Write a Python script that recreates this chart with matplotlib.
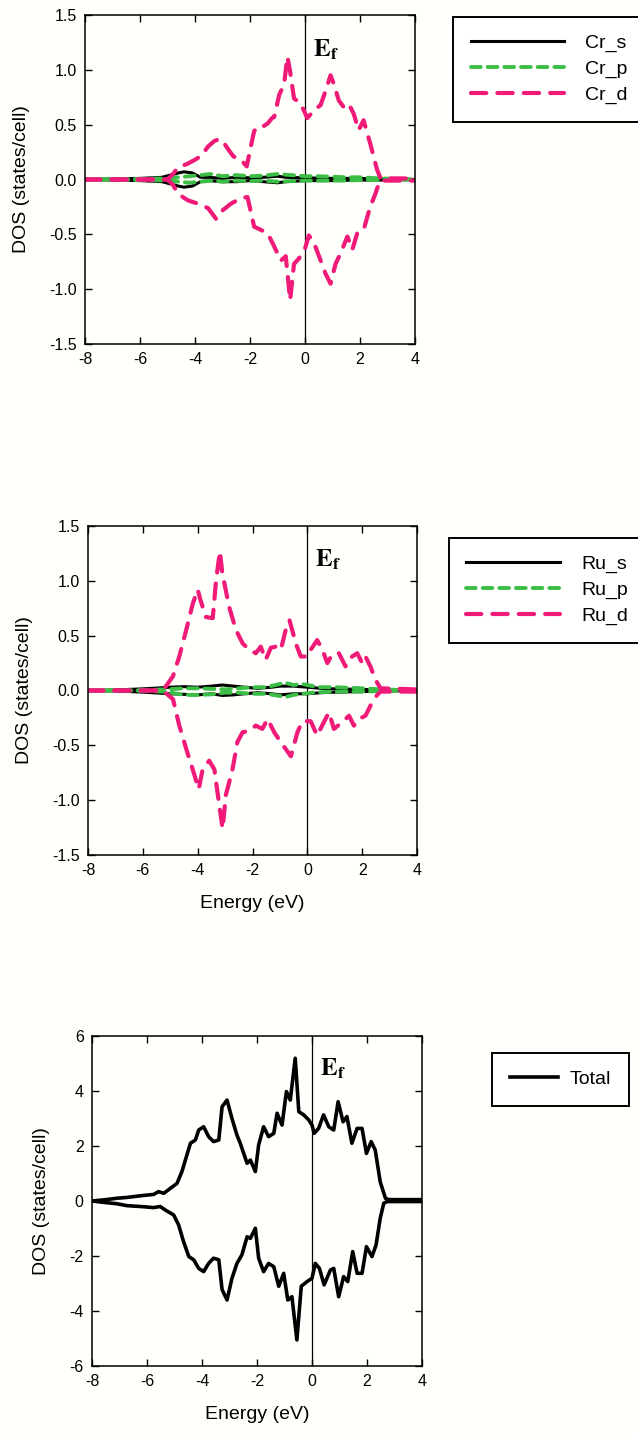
import matplotlib
matplotlib.use("Agg")
import matplotlib.pyplot as plt

plt.rcParams['font.family'] = ['Liberation Sans', 'DejaVu Sans']
plt.rcParams['mathtext.fontset'] = 'stix'
plt.rcParams['lines.scale_dashes'] = False
plt.rcParams['axes.unicode_minus'] = False

PINK = '#f01a78'
GREEN = '#3cbe46'

# ---- Cr (panel 1) ----
cr_d_up_e = [-8, -5.0, -4.8, -4.62, -4.3, -4.0, -3.75, -3.53, -3.3, -3.12, -2.94, -2.75, -2.6,
             -2.33, -2.12, -1.97, -1.85, -1.72, -1.55, -1.36, -1.2, -1.12, -0.94, -0.76, -0.64,
             -0.55, -0.4, -0.2, -0.04, 0.08, 0.33, 0.57, 0.75, 0.93, 1.05, 1.23, 1.41, 1.59,
             1.77, 1.95, 2.13, 2.37, 2.62, 2.75, 4]
cr_d_up = [0, 0, 0.05, 0.11, 0.14, 0.18, 0.22, 0.30, 0.35, 0.37, 0.33, 0.26, 0.21,
           0.18, 0.12, 0.30, 0.44, 0.48, 0.48, 0.51, 0.56, 0.57, 0.77, 0.87, 1.12,
           1.0, 0.74, 0.70, 0.63, 0.56, 0.63, 0.68, 0.81, 0.95, 0.87, 0.72, 0.66, 0.69,
           0.60, 0.45, 0.54, 0.33, 0.09, 0.01, 0.01]
cr_d_dn_e = [-8, -5.0, -4.8, -4.62, -4.26, -3.9, -3.53, -3.23, -2.99, -2.69, -2.33, -2.09,
             -1.85, -1.6, -1.36, -1.12, -0.88, -0.7, -0.54, -0.4, -0.22, 0.0, 0.14, 0.33,
             0.57, 0.75, 0.93, 1.11, 1.3, 1.54, 1.72, 1.9, 2.13, 2.37, 2.56, 2.68, 2.75, 4]
cr_d_dn = [0, 0, -0.05, -0.13, -0.19, -0.22, -0.26, -0.36, -0.28, -0.22, -0.17, -0.16,
           -0.43, -0.46, -0.49, -0.61, -0.74, -0.70, -1.10, -0.77, -0.72, -0.63, -0.51, -0.58,
           -0.74, -0.86, -0.95, -0.77, -0.67, -0.52, -0.64, -0.49, -0.46, -0.25, -0.13, -0.04, -0.01, -0.01]
cr_s_e = [-8, -7, -6, -5.2, -4.9, -4.6, -4.4, -4.1, -3.8, -3.5, -3.0, -2.5, -2.0, -1.5, -1.0,
          -0.7, 0.0, 1.0, 2.0, 2.7, 4]
cr_s_up = [0, 0.005, 0.01, 0.02, 0.04, 0.06, 0.07, 0.06, 0.02, 0.02, 0.01, 0.02, 0.015, 0.02,
           0.03, 0.02, 0.015, 0.01, 0.01, 0.005, 0]
cr_s_dn = [0, -0.005, -0.01, -0.02, -0.04, -0.06, -0.07, -0.06, -0.02, -0.01, -0.02, -0.02,
           -0.01, -0.02, -0.03, -0.02, -0.01, -0.01, -0.005, -0.005, 0]
cr_p_e = [-8, -6, -5, -4.6, -4.2, -3.8, -3.4, -3.0, -2.5, -2.0, -1.5, -1.0, -0.5, 0.0, 0.5,
          1.0, 1.5, 2.0, 2.7, 4]
cr_p_up = [0, 0.005, 0.01, 0.02, 0.03, 0.04, 0.05, 0.03, 0.04, 0.03, 0.035, 0.05, 0.04, 0.03,
           0.03, 0.025, 0.02, 0.02, 0.01, 0]
cr_p_dn = [0, -0.005, -0.01, -0.02, -0.03, -0.02, -0.01, -0.02, -0.01, -0.015, -0.01, -0.02,
           -0.015, -0.01, -0.01, -0.01, -0.01, -0.005, -0.005, 0]

# ---- Ru (panel 2) ----
ru_d_up_e = [-8, -5.27, -4.9, -4.67, -4.42, -4.18, -4.0, -3.88, -3.7, -3.45, -3.33, -3.19,
             -3.1, -2.85, -2.6, -2.36, -2.12, -1.88, -1.7, -1.52, -1.33, -1.15, -0.97, -0.79,
             -0.65, -0.42, -0.24, 0.0, 0.12, 0.36, 0.55, 0.73, 0.91, 1.15, 1.39, 1.58, 1.82,
             2.0, 2.12, 2.3, 2.48, 2.67, 4]
ru_d_up = [0, 0, 0.13, 0.31, 0.55, 0.79, 0.92, 0.81, 0.67, 0.66, 1.0, 1.27,
           1.07, 0.76, 0.55, 0.43, 0.37, 0.34, 0.40, 0.28, 0.39, 0.40, 0.37, 0.55,
           0.64, 0.43, 0.31, 0.31, 0.37, 0.46, 0.37, 0.25, 0.33, 0.34, 0.22, 0.30, 0.34,
           0.25, 0.31, 0.22, 0.10, 0.02, 0.01]
ru_d_dn_e = [-8, -5.27, -4.9, -4.67, -4.42, -4.18, -3.96, -3.82, -3.58, -3.39, -3.21, -3.09,
             -2.97, -2.73, -2.55, -2.36, -2.12, -1.88, -1.64, -1.45, -1.21, -0.97, -0.6,
             -0.36, -0.18, 0.12, 0.36, 0.6, 0.79, 0.97, 1.27, 1.52, 1.7, 1.88, 2.12, 2.36,
             2.55, 2.67, 4]
ru_d_dn = [0, 0, -0.08, -0.32, -0.53, -0.72, -0.90, -0.72, -0.64, -0.72, -1.05, -1.26,
           -0.95, -0.72, -0.47, -0.38, -0.37, -0.32, -0.35, -0.26, -0.38, -0.47, -0.60,
           -0.38, -0.28, -0.28, -0.41, -0.29, -0.20, -0.35, -0.29, -0.23, -0.32, -0.26, -0.23, -0.11,
           -0.04, -0.01, -0.01]
ru_s_e = [-8, -7, -6, -5.3, -5.0, -4.5, -4.0, -3.5, -3.1, -2.7, -2.3, -1.8, -1.3, -1.0, -0.5,
          0.0, 0.5, 1.0, 2.0, 2.7, 4]
ru_s_up = [0, 0.005, 0.015, 0.025, 0.03, 0.035, 0.03, 0.04, 0.05, 0.04, 0.03, 0.02, 0.03, 0.04,
           0.04, 0.03, 0.02, 0.015, 0.01, 0.005, 0]
ru_s_dn = [0, -0.005, -0.015, -0.025, -0.03, -0.035, -0.04, -0.03, -0.045, -0.04, -0.03, -0.02,
           -0.03, -0.04, -0.03, -0.03, -0.02, -0.015, -0.01, -0.005, 0]
ru_p_e = [-8, -6, -5.2, -4.5, -4.0, -3.5, -3.0, -2.5, -2.0, -1.5, -1.0, -0.8, -0.5, -0.2, 0.2,
          0.5, 1.0, 1.5, 2.0, 2.7, 4]
ru_p_up = [0, 0.003, 0.01, 0.02, 0.02, 0.015, 0.01, 0.02, 0.03, 0.03, 0.06, 0.07, 0.05, 0.06,
           0.04, 0.03, 0.03, 0.025, 0.02, 0.01, 0]
ru_p_dn = [0, -0.003, -0.01, -0.04, -0.04, -0.035, -0.02, -0.02, -0.03, -0.03, -0.05, -0.06,
           -0.04, -0.03, -0.02, -0.015, -0.01, -0.01, -0.01, -0.005, 0]

# ---- Total (panel 3) ----
tot_up_e = [-8, -7.58, -7.09, -6.73, -6.24, -5.76, -5.58, -5.39, -5.15, -4.91, -4.73, -4.55,
            -4.42, -4.24, -4.12, -3.94, -3.76, -3.58, -3.39, -3.27, -3.09, -2.91, -2.73, -2.61,
            -2.36, -2.24, -2.06, -1.94, -1.76, -1.58, -1.39, -1.27, -1.09, -0.93, -0.79, -0.61,
            -0.48, -0.3, -0.12, 0.0, 0.08, 0.24, 0.42, 0.61, 0.79, 0.95, 1.13, 1.27, 1.45,
            1.64, 1.82, 1.98, 2.15, 2.3, 2.48, 2.67, 2.79, 4]
tot_up = [0, 0.04, 0.10, 0.13, 0.19, 0.24, 0.34, 0.28, 0.46, 0.64, 1.07, 1.67,
          2.10, 2.22, 2.58, 2.70, 2.34, 2.16, 2.22, 3.43, 3.67, 3.0, 2.4, 2.1,
          1.37, 1.49, 1.07, 2.04, 2.70, 2.34, 2.46, 3.19, 2.76, 3.98, 3.67, 5.19,
          3.25, 3.13, 2.95, 2.76, 2.46, 2.64, 3.13, 2.70, 2.58, 3.61, 2.88, 3.07, 2.10,
          2.64, 2.64, 1.73, 2.16, 1.85, 0.70, 0.10, 0.05, 0.05]
tot_dn_e = [-8, -7.58, -7.09, -6.73, -6.24, -5.76, -5.52, -5.33, -5.03, -4.85, -4.67, -4.48,
            -4.3, -4.12, -3.94, -3.76, -3.58, -3.39, -3.27, -3.09, -2.91, -2.73, -2.55, -2.36,
            -2.24, -2.06, -1.94, -1.76, -1.58, -1.39, -1.21, -1.03, -0.88, -0.73, -0.55, -0.39,
            -0.18, 0.0, 0.12, 0.27, 0.44, 0.67, 0.79, 0.97, 1.15, 1.3, 1.48, 1.64, 1.82, 1.98,
            2.18, 2.33, 2.48, 2.61, 2.73, 4]
tot_dn = [0, -0.05, -0.10, -0.17, -0.20, -0.24, -0.20, -0.33, -0.51, -0.87, -1.48, -2.02,
          -2.14, -2.45, -2.57, -2.27, -2.08, -2.14, -3.22, -3.60, -2.81, -2.27, -1.96, -1.30,
          -1.36, -0.99, -2.08, -2.57, -2.27, -2.39, -3.10, -2.63, -3.60, -3.48, -5.05, -3.10,
          -2.93, -2.81, -2.27, -2.45, -3.05, -2.51, -2.45, -3.48, -2.75, -2.93, -1.84, -2.63,
          -2.63, -1.66, -2.02, -1.60, -0.63, -0.08, -0.02, -0.02]

W, H = 638, 1437
fig = plt.figure(figsize=(W / 100, H / 100), dpi=100, facecolor='#fffffb')


def make_axes(l, r, t, b):
    return fig.add_axes([l / W, 1 - b / H, (r - l) / W, (b - t) / H])


def style_axes(ax, ylim, yticks, fmt, ef_y, xlabel=True):
    ax.set_facecolor('#fffffb')
    ax.set_xlim(-8, 4)
    ax.set_ylim(*ylim)
    ax.set_xticks([-8, -6, -4, -2, 0, 2, 4])
    ax.set_yticks(yticks)
    ax.set_yticklabels([fmt % v for v in yticks])
    ax.tick_params(direction='in', length=5, width=1, top=True, right=True,
                   labelsize=11.5, pad=6)
    for sp in ax.spines.values():
        sp.set_linewidth(1.1)
    ax.axvline(0, color='black', lw=0.9, zorder=1)
    ax.set_ylabel('DOS (states/cell)', fontsize=14, labelpad=14)
    if xlabel:
        ax.set_xlabel('Energy (eV)', fontsize=14, labelpad=12)
    ax.text(0.28, ef_y, r'$\mathbf{E_f}$', fontsize=18, va='center', ha='left')


def add_legend(ax, x0, y0, handlelength, textpad):
    ax.legend(loc='upper left', bbox_to_anchor=(x0 / W, 1 - y0 / H),
              bbox_transform=fig.transFigure, borderaxespad=0, fontsize=14,
              frameon=True, fancybox=False, framealpha=1, edgecolor='black',
              handlelength=handlelength, handletextpad=textpad, labelspacing=0.42,
              borderpad=0.9)
    ax.get_legend().get_frame().set_linewidth(1.4)


def pdos(ax, s, p, d, names):
    ax.plot(s[0], s[1], color='black', lw=2.2, label=names[0])
    ax.plot(s[0], s[2], color='black', lw=2.2)
    ax.plot(p[0], p[1], color=GREEN, lw=2.8, dashes=(7, 5), dash_capstyle='round', label=names[1])
    ax.plot(p[0], p[2], color=GREEN, lw=2.8, dashes=(7, 5), dash_capstyle='round')
    ax.plot(d[0], d[1], color=PINK, lw=3, dashes=(11, 8), dash_capstyle='round', label=names[2])
    ax.plot(d[2], d[3], color=PINK, lw=3, dashes=(11, 8), dash_capstyle='round')


# panel 1: Cr
ax1 = make_axes(85, 415, 15, 344)
pdos(ax1, (cr_s_e, cr_s_up, cr_s_dn), (cr_p_e, cr_p_up, cr_p_dn),
     (cr_d_up_e, cr_d_up, cr_d_dn_e, cr_d_dn), ['Cr_s', 'Cr_p', 'Cr_d'])
style_axes(ax1, (-1.5, 1.5), [-1.5, -1.0, -0.5, 0.0, 0.5, 1.0, 1.5], '%.1f', 1.18, xlabel=False)
add_legend(ax1, 453, 17, 4.8, 1.1)

# panel 2: Ru
ax2 = make_axes(88, 417, 526, 855)
pdos(ax2, (ru_s_e, ru_s_up, ru_s_dn), (ru_p_e, ru_p_up, ru_p_dn),
     (ru_d_up_e, ru_d_up, ru_d_dn_e, ru_d_dn), ['Ru_s', 'Ru_p', 'Ru_d'])
style_axes(ax2, (-1.5, 1.5), [-1.5, -1.0, -0.5, 0.0, 0.5, 1.0, 1.5], '%.1f', 1.19)
add_legend(ax2, 449, 538, 4.8, 1.1)

# panel 3: total
ax3 = make_axes(92, 422, 1036, 1366)
ax3.plot(tot_up_e, tot_up, color='black', lw=2.6, label='Total')
ax3.plot(tot_dn_e, tot_dn, color='black', lw=2.6)
style_axes(ax3, (-6, 6), [-6, -4, -2, 0, 2, 4, 6], '%d', 4.8)
add_legend(ax3, 492, 1053, 2.5, 0.6)

fig.savefig('out.png', dpi=100, facecolor=fig.get_facecolor())
